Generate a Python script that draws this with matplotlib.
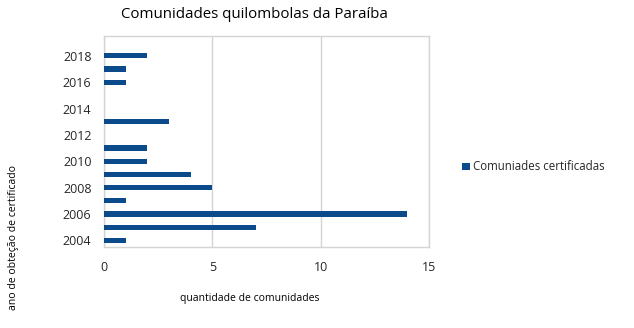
import numpy as np
import matplotlib
matplotlib.use("Agg")
from matplotlib import pyplot as plt

years = list(range(2004, 2019))
certified = [1, 7, 14, 1, 5, 4, 2, 2, 0, 3, 0, 0, 1, 1, 2]
shown_years = [2004, 2006, 2008, 2010, 2012, 2014, 2016, 2018]

BAR_COLOR = "#0b4a8b"
GRID_COLOR = "#d4d4d4"
TEXT_COLOR = "#262626"

plt.rcParams["font.family"] = ["Open Sans", "DejaVu Sans"]

fig = plt.figure(figsize=(6.34, 3.28), dpi=100)
ax = fig.add_axes([104 / 634, 1 - 247 / 328, 325 / 634, (247 - 36) / 328])

positions = np.arange(len(years))
ax.barh(positions, certified, height=0.4, color=BAR_COLOR, zorder=3,
        label="Comuniades certificadas")

ax.set_xlim(0, 15)
ax.set_ylim(-0.5, 15.5)
ax.set_xticks([0, 5, 10, 15])
ax.set_yticks([years.index(y) for y in shown_years])
ax.set_yticklabels([str(y) for y in shown_years])
ax.tick_params(axis="both", length=0, labelsize=9, colors=TEXT_COLOR)
ax.tick_params(axis="x", pad=10)
ax.tick_params(axis="y", pad=9)

ax.grid(axis="x", color=GRID_COLOR, linewidth=1, zorder=0)
for side in ax.spines.values():
    side.set_color(GRID_COLOR)
    side.set_linewidth(1)

fig.text(254 / 634, 1 - 14 / 328, "Comunidades quilombolas da Paraíba",
         ha="center", va="center", fontsize=10.8, color="black")
fig.text(250 / 634, 1 - 298 / 328, "quantidade de comunidades",
         ha="center", va="center", fontsize=7.5, color="black")
fig.text(14 / 634, 1 - 238 / 328, "ano de obteção de certificado",
         ha="center", va="center", rotation=90, fontsize=7.5, color="black")

fig.legend(loc="center left", bbox_to_anchor=(452 / 634, 1 - 167 / 328),
           frameon=False, fontsize=8.3, handlelength=0.65, handleheight=0.65,
           handletextpad=0.3, labelcolor=TEXT_COLOR)

fig.savefig("out.png", dpi=100, facecolor="white")
